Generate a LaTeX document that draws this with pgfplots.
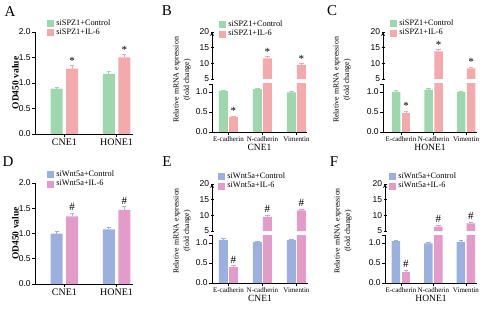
\documentclass[border=0pt]{standalone}
\usepackage{pgfplots}
\pgfplotsset{compat=1.18}
\usepackage{fontspec}
\setmainfont{Liberation Serif}
\newfontfamily\ticksans{Liberation Sans}
\definecolor{cgreen}{RGB}{158,214,174}
\definecolor{cpink}{RGB}{243,170,172}
\definecolor{cblue}{RGB}{156,176,224}
\definecolor{cmag}{RGB}{226,156,202}
\pgfplotsset{
  base/.style={scale only axis, axis lines=left, axis line style={-, line width=0.8pt, black},
    every tick/.style={black, line width=0.8pt}, tick align=outside, major tick length=3pt,
    /pgf/number format/assume math mode=true,
    yticklabel style={font=\ticksans\fontsize{8.5}{9}\selectfont, inner sep=1.2pt},
    xticklabel style={font=\fontsize{7}{8}\selectfont, inner sep=1.5pt},
    xlabel style={font=\fontsize{9.5}{10}\selectfont, inner sep=1pt},
    legend style={draw=none, fill=none, inner sep=0pt, row sep=0.5pt, column sep=2pt, font=\fontsize{8.3}{9}\selectfont, nodes={inner sep=0.8pt}},
    legend cell align=left},
  dec/.style={yticklabel style={/pgf/number format/.cd, fixed, fixed zerofill, precision=1}},
  bars/.style n args={3}{ybar, bar width=#2, bar shift=0pt, xshift=#3, fill=#1, draw=none, forget plot},
  errs/.style={error bars/.cd, y dir=plus, y explicit, error bar style={#1, line width=0.7pt},
    error mark options={rotate=90, mark size=2.2pt, #1, line width=0.7pt}},
  sig/.style 2 args={only marks, mark=*, mark size=0pt, mark options={draw=none, fill=none}, forget plot,
    xshift=#2, nodes near coords={#1}, every node near coord/.append style={anchor=south, inner sep=1pt, black,
    font=\fontsize{11}{11}\selectfont}},
  leg/.style={legend image code/.code={\fill[#1] (0pt,-3pt) rectangle (6pt,3pt);}},
  lower/.style={base, dec, width=#1, height=48pt, ymin=0, ymax=1.2, ytick={0,0.5,1},
    extra y ticks={1.2}, extra y tick labels={}, xtick={0,1,2},
    xticklabels={E-cadherin,N-cadherin,Vimentin}},
  upper/.style={base, width=#1, height=47pt, ymin=5, ymax=20, ytick={5,10,15,20},
    axis x line=none, axis y line=left, xtick=\empty},
}
\begin{document}
\begin{tikzpicture}
\useasboundingbox (0,0) rectangle (490pt,311pt);
\tikzset{lab/.style={font=\fontsize{15}{15}\selectfont}, ylab/.style={rotate=90, align=center, font=\fontsize{7.8}{10.5}\selectfont}}
\node[lab] at (10pt,299pt) {A};
\node[lab] at (167pt,300pt) {B};
\node[lab] at (332pt,300pt) {C};
\node[lab] at (8pt,149pt) {D};
\node[lab] at (167pt,149pt) {E};
\node[lab] at (334pt,149pt) {F};
\node[ylab] at (182pt,231pt) {Relative mRNA expression\\(fold change)};
\node[ylab] at (342pt,231pt) {Relative mRNA expression\\(fold change)};
\node[ylab] at (182pt,80pt) {Relative mRNA expression\\(fold change)};
\node[ylab] at (343pt,80pt) {Relative mRNA expression\\(fold change)};

% ---------- A ----------
\begin{axis}[base, dec, at={(35pt,177pt)}, anchor=south west, width=98pt, height=102pt,
  xmin=-0.567, xmax=1.317, ymin=0, ymax=2, ytick={0,0.5,1,1.5,2},
  xtick={0,1}, xticklabels={CNE1,HONE1}, xticklabel style={font=\fontsize{10}{11}\selectfont},
  ylabel={\textbf{OD450 value}}, ylabel style={font=\fontsize{9.5}{10}\selectfont, at={(axis description cs:-0.2,0.5)}, anchor=center},
  legend style={at={(0.122,1.13)}, anchor=north west}]
\addlegendimage{leg=cgreen}\addlegendentry{siSPZ1+Control}
\addlegendimage{leg=cpink}\addlegendentry{siSPZ1+IL-6}
\addplot[bars={cgreen}{12pt}{-7.75pt}, errs=cgreen] coordinates {(0,0.89) +- (0,0.03) (1,1.18) +- (0,0.04)};
\addplot[bars={cpink}{12pt}{7.75pt}, errs=cpink] coordinates {(0,1.28) +- (0,0.06) (1,1.50) +- (0,0.06)};
\addplot[sig={*}{7.75pt}] coordinates {(0,1.34) (1,1.56)};
\end{axis}

% ---------- B ----------
\begin{axis}[lower=95pt, at={(212pt,179pt)}, anchor=south west, xmin=-0.485, xmax=2.309, xlabel={CNE1}]
\addplot[bars={cgreen}{9pt}{-5pt}, errs=cgreen] coordinates {(0,1.03) +- (0,0.02) (1,1.07) +- (0,0.02) (2,0.99) +- (0,0.02)};
\addplot[bars={cpink}{9pt}{5pt}, errs=cpink] coordinates {(0,0.37) +- (0,0.03)};
\addplot[bars={cpink}{9pt}{5pt}] coordinates {(1,11.6) (2,9.5)};
\addplot[sig={*}{5pt}] coordinates {(0,0.40)};
\end{axis}
\begin{axis}[upper=95pt, at={(212pt,232pt)}, anchor=south west, xmin=-0.485, xmax=2.309,
  legend style={at={(0.074,1.255)}, anchor=north west}]
\addlegendimage{leg=cgreen}\addlegendentry{siSPZ1+Control}
\addlegendimage{leg=cpink}\addlegendentry{siSPZ1+IL-6}
\addplot[bars={cpink}{9pt}{5pt}, errs=cpink] coordinates {(1,11.6) +- (0,0.5) (2,9.5) +- (0,0.4)};
\addplot[sig={*}{5pt}] coordinates {(1,12.1) (2,9.9)};
\end{axis}

% ---------- C ----------
\begin{axis}[lower=94pt, at={(383pt,179pt)}, anchor=south west, xmin=-0.554, xmax=2.338, xlabel={HONE1}]
\addplot[bars={cgreen}{8.5pt}{-5pt}, errs=cgreen] coordinates {(0,1.00) +- (0,0.04) (1,1.06) +- (0,0.02) (2,1.00) +- (0,0.02)};
\addplot[bars={cpink}{8.5pt}{5pt}, errs=cpink] coordinates {(0,0.48) +- (0,0.04)};
\addplot[bars={cpink}{8.5pt}{5pt}] coordinates {(1,13.8) (2,8.4)};
\addplot[sig={*}{5pt}] coordinates {(0,0.52)};
\end{axis}
\begin{axis}[upper=94pt, at={(383pt,232pt)}, anchor=south west, xmin=-0.554, xmax=2.338,
  legend style={at={(0.074,1.277)}, anchor=north west}]
\addlegendimage{leg=cgreen}\addlegendentry{siSPZ1+Control}
\addlegendimage{leg=cpink}\addlegendentry{siSPZ1+IL-6}
\addplot[bars={cpink}{8.5pt}{5pt}, errs=cpink] coordinates {(1,13.8) +- (0,0.7) (2,8.4) +- (0,0.4)};
\addplot[sig={*}{5pt}] coordinates {(1,14.5) (2,8.8)};
\end{axis}

% ---------- D ----------
\begin{axis}[base, dec, at={(35pt,27pt)}, anchor=south west, width=98pt, height=101pt,
  xmin=-0.567, xmax=1.317, ymin=0, ymax=2, ytick={0,0.5,1,1.5,2},
  xtick={0,1}, xticklabels={CNE1,HONE1}, xticklabel style={font=\fontsize{10}{11}\selectfont},
  ylabel={\textbf{OD450 value}}, ylabel style={font=\fontsize{9.5}{10}\selectfont, at={(axis description cs:-0.2,0.5)}, anchor=center},
  legend style={at={(0.122,1.129)}, anchor=north west}]
\addlegendimage{leg=cblue}\addlegendentry{siWnt5a+Control}
\addlegendimage{leg=cmag}\addlegendentry{siWnt5a+IL-6}
\addplot[bars={cblue}{12pt}{-7.75pt}, errs=cblue] coordinates {(0,1.00) +- (0,0.05) (1,1.08) +- (0,0.05)};
\addplot[bars={cmag}{12pt}{7.75pt}, errs=cmag] coordinates {(0,1.34) +- (0,0.06) (1,1.47) +- (0,0.06)};
\addplot[sig={\#}{7.75pt}] coordinates {(0,1.43) (1,1.56)};
\end{axis}

% ---------- E ----------
\begin{axis}[lower=96pt, at={(212pt,28pt)}, anchor=south west, xmin=-0.485, xmax=2.34, xlabel={CNE1}]
\addplot[bars={cblue}{9pt}{-5pt}, errs=cblue] coordinates {(0,1.08) +- (0,0.03) (1,1.02) +- (0,0.03) (2,1.07) +- (0,0.02)};
\addplot[bars={cmag}{9pt}{5pt}, errs=cmag] coordinates {(0,0.40) +- (0,0.04)};
\addplot[bars={cmag}{9pt}{5pt}] coordinates {(1,9.5) (2,11.6)};
\addplot[sig={\#}{5pt}] coordinates {(0,0.47)};
\end{axis}
\begin{axis}[upper=96pt, at={(212pt,80pt)}, anchor=south west, xmin=-0.485, xmax=2.34,
  legend style={at={(0.063,1.255)}, anchor=north west}]
\addlegendimage{leg=cblue}\addlegendentry{siWnt5a+Control}
\addlegendimage{leg=cmag}\addlegendentry{siWnt5a+IL-6}
\addplot[bars={cmag}{9pt}{5pt}, errs=cmag] coordinates {(1,9.5) +- (0,0.4) (2,11.6) +- (0,0.4)};
\addplot[sig={\#}{5pt}] coordinates {(1,10.4) (2,12.5)};
\end{axis}

% ---------- F ----------
\begin{axis}[lower=92pt, at={(385pt,28pt)}, anchor=south west, xmin=-0.49, xmax=2.34, xlabel={HONE1}]
\addplot[bars={cblue}{8.5pt}{-5pt}, errs=cblue] coordinates {(0,1.05) +- (0,0.02) (1,0.99) +- (0,0.02) (2,1.03) +- (0,0.04)};
\addplot[bars={cmag}{8.5pt}{5pt}, errs=cmag] coordinates {(0,0.27) +- (0,0.05)};
\addplot[bars={cmag}{8.5pt}{5pt}] coordinates {(1,6.4) (2,7.4)};
\addplot[sig={\#}{5pt}] coordinates {(0,0.36)};
\end{axis}
\begin{axis}[upper=92pt, at={(385pt,80pt)}, anchor=south west, xmin=-0.49, xmax=2.34,
  legend style={at={(0.043,1.255)}, anchor=north west}]
\addlegendimage{leg=cblue}\addlegendentry{siWnt5a+Control}
\addlegendimage{leg=cmag}\addlegendentry{siWnt5a+IL-6}
\addplot[bars={cmag}{8.5pt}{5pt}, errs=cmag] coordinates {(1,6.4) +- (0,0.4) (2,7.4) +- (0,0.5)};
\addplot[sig={\#}{5pt}] coordinates {(1,7.3) (2,8.4)};
\end{axis}
\end{tikzpicture}
\end{document}
